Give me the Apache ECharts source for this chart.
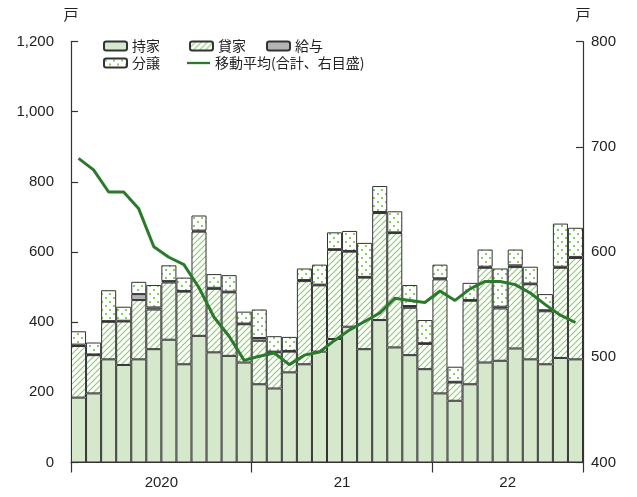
<!DOCTYPE html>
<html>
<head>
<meta charset="utf-8">
<script src="https://cdn.jsdelivr.net/npm/echarts@6/dist/echarts.min.js"></script>
<style>
  html, body { margin: 0; padding: 0; background: #fff; }
  #main { width: 637px; height: 497px; }
</style>
</head>
<body>
<div id="main"></div>
<script>
// 月（2020年1月〜2022年10月）
const months = [
  '2020/1','2020/2','2020/3','2020/4','2020/5','2020/6','2020/7','2020/8','2020/9','2020/10','2020/11','2020/12',
  '2021/1','2021/2','2021/3','2021/4','2021/5','2021/6','2021/7','2021/8','2021/9','2021/10','2021/11','2021/12',
  '2022/1','2022/2','2022/3','2022/4','2022/5','2022/6','2022/7','2022/8','2022/9','2022/10'
];
const yearLabels = ['2020', '21', '22'];
const yearLabelPos = [6, 18, 29];
const yearTickPos = [0, 12, 24, 34];

// 持家
const owner = [185,197,294,278,294,323,350,280,361,314,304,285,
               223,211,257,280,316,352,387,323,406,328,306,266,
               197,176,223,285,290,325,294,280,298,294];
// 貸家
const rental = [147,109,107,124,169,113,163,207,297,181,181,109,
                124,103,59,237,189,254,214,204,305,326,135,72,
                325,52,238,270,149,232,214,151,257,289];
// 給与
const kyuyo = [4,2,2,2,17,6,4,2,3,3,2,2,
               8,2,2,3,2,2,2,2,3,2,5,2,
               3,2,2,3,5,5,2,3,3,3];
// 分譲
const bunjo = [38,34,88,40,35,64,45,38,43,39,47,34,
               81,44,40,33,57,48,57,97,74,60,60,66,
               39,43,49,49,109,45,48,46,123,83];
// 移動平均（合計、右目盛）
const movingAvg = [689,678,657,657,641,605,595,588,566,538,520,497,
                   501,504,493,502,505,516,526,534,542,556,554,552,
                   563,554,565,572,572,569,561,550,540,533];

const fontJP = '"Noto Sans CJK JP", sans-serif';
const fontNum = '"Liberation Sans", Arial, sans-serif';

// 斜線パターン
const makeHatch = () => {
    const c = document.createElement('canvas');
    c.width = 6; c.height = 6;
    const ctx = c.getContext('2d');
    ctx.fillStyle = '#ffffff';
    ctx.fillRect(0, 0, 6, 6);
    ctx.strokeStyle = '#8ccb6c';
    ctx.lineWidth = 1.1;
    ctx.beginPath();
    ctx.moveTo(0, 6); ctx.lineTo(6, 0);
    ctx.moveTo(-1, 1); ctx.lineTo(1, -1);
    ctx.moveTo(5, 7); ctx.lineTo(7, 5);
    ctx.stroke();
    return c;
}
// 点パターン
const makeDots = () => {
    const c = document.createElement('canvas');
    c.width = 8; c.height = 8;
    const ctx = c.getContext('2d');
    ctx.fillStyle = '#ffffff';
    ctx.fillRect(0, 0, 8, 8);
    ctx.fillStyle = '#8ccb6c';
    ctx.fillRect(1, 1, 2, 2);
    ctx.fillRect(5, 5, 2, 2);
    return c;
}

const borderStyle = { borderColor: '#333', borderWidth: 1 };
const legendText = { fontFamily: fontJP, fontSize: 14, color: '#222', lineHeight: 16 };

// 凡例（項目ごとに配置）
const legendItem = (item, left, top) => ({
    data: [item],
    left: left, top: top, padding: 0,
    itemWidth: 23, itemHeight: 9,
    textStyle: legendText
});

const myChart = echarts.init(document.getElementById('main'));
myChart.setOption({
    animation: false,
    grid: { left: 71, right: 54, top: 41.5, bottom: 34.5 },
    legend: [
        legendItem('持家', 103, 38),
        legendItem('貸家', 189, 38),
        legendItem('給与', 266, 38),
        legendItem('分譲', 103, 55),
        legendItem({
            name: '移動平均(合計、右目盛)',
            icon: 'path://M0,0L30,0L30,3L0,3Z',
            itemStyle: { borderWidth: 0 }
        }, 187, 55)
    ],
    xAxis: [
        {
            type: 'category',
            data: months,
            boundaryGap: true,
            axisLine: { lineStyle: { color: '#333', width: 1.2 } },
            axisTick: { show: false },
            axisLabel: { show: false }
        },
        {
            type: 'value',
            min: 0, max: 34,
            position: 'bottom',
            axisLine: { show: false },
            splitLine: { show: false },
            axisTick: {
                show: true, length: 10,
                customValues: yearTickPos,
                lineStyle: { color: '#333', width: 1.2 }
            },
            axisLabel: {
                customValues: yearLabelPos,
                formatter: v => yearLabels[yearLabelPos.indexOf(v)] || '',
                margin: 13,
                fontFamily: fontNum, fontSize: 15, color: '#222'
            }
        }
    ],
    yAxis: [
        {
            type: 'value',
            min: 0, max: 1200, interval: 200,
            name: '戸', nameLocation: 'end', nameGap: 20,
            nameTextStyle: { fontFamily: fontJP, fontSize: 15, color: '#222', align: 'center' },
            axisLine: { show: true, lineStyle: { color: '#333', width: 1.2 } },
            axisTick: { show: true, inside: true, length: 7, lineStyle: { color: '#333', width: 1.2 } },
            splitLine: { show: false },
            axisLabel: {
                margin: 17,
                fontFamily: fontNum, fontSize: 15, color: '#222',
                formatter: v => v.toLocaleString('en-US')
            }
        },
        {
            type: 'value',
            min: 400, max: 800, interval: 100,
            position: 'right',
            name: '戸', nameLocation: 'end', nameGap: 20,
            nameTextStyle: { fontFamily: fontJP, fontSize: 15, color: '#222', align: 'center' },
            axisLine: { show: true, lineStyle: { color: '#333', width: 1.2 } },
            axisTick: { show: true, inside: true, length: 7, lineStyle: { color: '#333', width: 1.2 } },
            splitLine: { show: false },
            axisLabel: { margin: 8, fontFamily: fontNum, fontSize: 15, color: '#222' }
        }
    ],
    series: [
        {
            name: '持家', type: 'bar', stack: 'total', barWidth: '100%',
            data: owner,
            itemStyle: Object.assign({ color: '#d5e8cb' }, borderStyle)
        },
        {
            name: '貸家', type: 'bar', stack: 'total', barWidth: '100%',
            data: rental,
            itemStyle: Object.assign({ color: { image: makeHatch(), repeat: 'repeat' } }, borderStyle)
        },
        {
            name: '給与', type: 'bar', stack: 'total', barWidth: '100%',
            data: kyuyo,
            itemStyle: Object.assign({ color: '#b4b4b6' }, borderStyle)
        },
        {
            name: '分譲', type: 'bar', stack: 'total', barWidth: '100%',
            data: bunjo,
            itemStyle: Object.assign({ color: { image: makeDots(), repeat: 'repeat' } }, borderStyle)
        },
        {
            name: '移動平均(合計、右目盛)', type: 'line',
            yAxisIndex: 1,
            data: movingAvg,
            symbol: 'none',
            z: 5,
            lineStyle: { color: '#2b7a2b', width: 3 },
            itemStyle: { color: '#2b7a2b' }
        }
    ]
});
</script>
</body>
</html>
